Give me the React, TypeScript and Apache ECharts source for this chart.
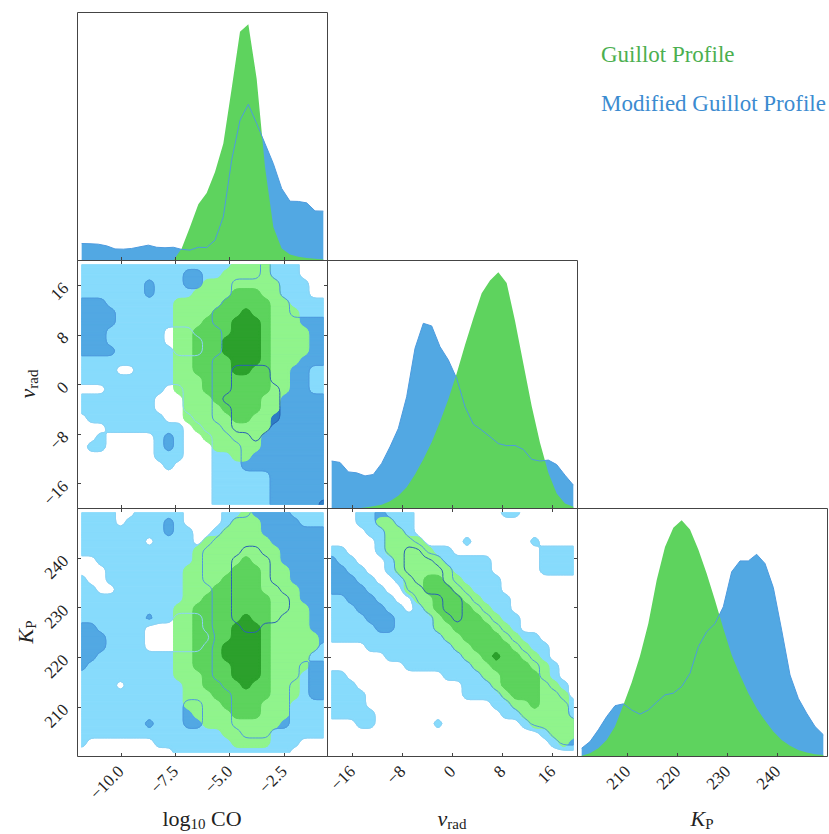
import React, { useEffect, useRef } from "react";
import * as echarts from "echarts";

// ---------------------------------------------------------------------------
// Parameters, axis ranges and tick marks
// ---------------------------------------------------------------------------
const LOGCO_RANGE = [-12, -0.5];
const VRAD_RANGE = [-20, 20];
const KP_RANGE = [200, 250];

const LOGCO_TICKS = [-10, -7.5, -5, -2.5];
const VRAD_TICKS = [-16, -8, 0, 8, 16];
const KP_TICKS = [210, 220, 230, 240];

const HIST_BINS = 30;

// ---------------------------------------------------------------------------
// 1D marginal posteriors (relative density per bin, 30 bins over the range)
// ---------------------------------------------------------------------------
const LOGCO_HIST_GUILLOT = [
  0, 0, 0, 0, 0, 0, 0, 0, 0, 0, 0, 0, 0.051, 0.142, 0.238, 0.286, 0.375, 0.495,
  0.728, 0.968, 1.0, 0.77, 0.396, 0.142, 0.051, 0.025, 0.016, 0.011, 0.007, 0.004,
];
const LOGCO_HIST_MODIFIED = [
  0.072, 0.071, 0.069, 0.062, 0.049, 0.048, 0.051, 0.058, 0.065, 0.056, 0.054,
  0.056, 0.047, 0.044, 0.056, 0.055, 0.086, 0.185, 0.425, 0.594, 0.661, 0.58,
  0.495, 0.41, 0.305, 0.251, 0.25, 0.244, 0.21, 0.209,
];
const VRAD_HIST_GUILLOT = [
  0, 0, 0, 0, 0.004, 0.01, 0.016, 0.031, 0.054, 0.09, 0.144, 0.209, 0.281, 0.367,
  0.463, 0.572, 0.692, 0.805, 0.911, 0.965, 1.0, 0.955, 0.795, 0.614, 0.434,
  0.278, 0.151, 0.064, 0.021, 0.007,
];
const VRAD_HIST_MODIFIED = [
  0.201, 0.195, 0.155, 0.151, 0.138, 0.144, 0.191, 0.261, 0.339, 0.473, 0.678,
  0.784, 0.773, 0.685, 0.629, 0.551, 0.431, 0.357, 0.332, 0.304, 0.275, 0.266,
  0.267, 0.25, 0.208, 0.201, 0.205, 0.186, 0.141, 0.099,
];
const KP_HIST_GUILLOT = [
  0.003, 0.014, 0.035, 0.07, 0.127, 0.218, 0.313, 0.425, 0.563, 0.746, 0.887,
  0.969, 1.0, 0.961, 0.876, 0.775, 0.662, 0.542, 0.43, 0.345, 0.268, 0.204,
  0.152, 0.106, 0.07, 0.045, 0.028, 0.017, 0.01, 0.006,
];
const KP_HIST_MODIFIED = [
  0.035, 0.063, 0.113, 0.169, 0.215, 0.223, 0.197, 0.179, 0.197, 0.23, 0.261,
  0.268, 0.296, 0.352, 0.465, 0.528, 0.563, 0.634, 0.782, 0.828, 0.828, 0.856,
  0.817, 0.715, 0.535, 0.345, 0.246, 0.183, 0.127, 0.092,
];

// ---------------------------------------------------------------------------
// 2D posteriors: credible-region level per node (0 = outside, 1..3 = inner
// regions). 26 x 26 nodes, rows from the top of the y range downwards,
// columns from the left of the x range.
// ---------------------------------------------------------------------------
const GUILLOT_LOGCO_VRAD = [
  "00000000000000001111000000",
  "00000000000000011111000000",
  "00000000000001111111100000",
  "00000000000011112221100000",
  "00000000001111122222110000",
  "00000000001111222322111000",
  "00000000001112223332111000",
  "00000000001122223332111100",
  "00000000001122233332111100",
  "00000000001122233332111100",
  "00000000001122223332111000",
  "00000000001122223322110000",
  "00000000001112222222110000",
  "00000000001112222222110000",
  "00000000000111222221100000",
  "00000000000111122221100000",
  "00000000000111112211000000",
  "00000000000011111111000000",
  "00000000000001111110000000",
  "00000000000000111110000000",
  "00000000000000001100000000",
  "00000000000000000000000000",
  "00000000000000000000000000",
  "00000000000000000000000000",
  "00000000000000000000000000",
  "00000000000000000000000000",
];
const MODIFIED_LOGCO_VRAD = [
  "11111111111111111112111000",
  "11111111111221111112111000",
  "11111112111221112222211100",
  "11111112111111112222211100",
  "22211111111111122222221111",
  "22221111111111222222221111",
  "22221111111111222222222222",
  "22211111100011122222222222",
  "22211111100001122222222222",
  "22221111110001122222222222",
  "11111111111111222222222222",
  "11110011111111223333222211",
  "11111111111111223333222211",
  "00011111100111223333322211",
  "11111111000111233333322222",
  "11111111000111223333322222",
  "01111111100011223333322222",
  "00011111111001123333222222",
  "00100000121000112232222222",
  "01100000121000111222222222",
  "00000000111000111222222222",
  "00000000010000111222222222",
  "00000000000000111111222222",
  "00000000000000111111222222",
  "00000000000000111111222222",
  "00000000000000111111222223",
];
const GUILLOT_LOGCO_KP = [
  "00000000000000000100000000",
  "00000000000000001110000000",
  "00000000000000011110000000",
  "00000000000001111111000000",
  "00000000000011111111100000",
  "00000000000011111211100000",
  "00000000000111112221110000",
  "00000000000111122221110000",
  "00000000000111222221111000",
  "00000000000112222222111000",
  "00000000001122222222111100",
  "00000000001122222322111100",
  "00000000001122223332111100",
  "00000000001122223332111110",
  "00000000001122233332111110",
  "00000000001122233332111100",
  "00000000001122223332111100",
  "00000000001112223332111000",
  "00000000000112222322111000",
  "00000000000111222222111000",
  "00000000000111122221110000",
  "00000000000011112221110000",
  "00000000000001111111100000",
  "00000000000000011111000000",
  "00000000000000001111000000",
  "00000000000000000000000000",
];
const MODIFIED_LOGCO_KP = [
  "11110011111000011122221111",
  "11110111121000012222222111",
  "11111111121100122222222222",
  "11111110111101222222222222",
  "11111111111112222332222222",
  "00111111111112223333222222",
  "00011111111112223333222222",
  "10011111111112223333222222",
  "11001111111111223333322222",
  "11111111111111223333332222",
  "11111111111111223333332222",
  "11111112110001223333322222",
  "22111110000001222332222222",
  "22211110000000222222222222",
  "22211110000001222222222221",
  "22111111111111222222222211",
  "21111111111111222222222122",
  "11111111111111222222222122",
  "11110111111111122222221122",
  "11111111111111112222221122",
  "11111111111221112222221111",
  "11111111111221112222221111",
  "11111112111221112222221111",
  "11111111111111111222111111",
  "10000000111111111111111000",
  "00000000001111111111110000",
];
const GUILLOT_VRAD_KP = [
  "00000000000000000000000000",
  "00000110000000000000000000",
  "00000011000000000000000000",
  "00000011110000000000000000",
  "00000011111000000000000000",
  "00000001111100000000000000",
  "00000001111110000000000000",
  "00000000112211000000000000",
  "00000000112221100000000000",
  "00000000011222110000000000",
  "00000000001222211000000000",
  "00000000000122221100000000",
  "00000000000112222110000000",
  "00000000000011222211000000",
  "00000000000001122221100000",
  "00000000000000112322110000",
  "00000000000000011222211000",
  "00000000000000001122221000",
  "00000000000000000122221100",
  "00000000000000000012221110",
  "00000000000000000001121110",
  "00000000000000000000111110",
  "00000000000000000000011111",
  "00000000000000000000000111",
  "00000000000000000000000010",
  "00000000000000000000000000",
];
const MODIFIED_VRAD_KP = [
  "00011211100000000011000000",
  "00011221100000000000000000",
  "00001122100000000000000000",
  "00000122210000100000010000",
  "11000122331110000000001111",
  "21100012333211111000001111",
  "22110012333321111000001111",
  "22211001233321111100000000",
  "22221100223332111100000000",
  "11222110022233211110000000",
  "11122211012233221110000000",
  "11112221111223222111000000",
  "11111221111222222211000000",
  "11111111111122222221110000",
  "00001111111112222222111000",
  "00000011111111222222211000",
  "00000000111111122222221100",
  "11000000000011112222221100",
  "11100000000000111222222110",
  "11110000000000111122222210",
  "11110000000000000112222221",
  "11111000000000000011222221",
  "00011000000100000000122222",
  "00000000000000000000001222",
  "00000000000000000000000122",
  "00000000000000000000000000",
];

// ---------------------------------------------------------------------------
// Styling
// ---------------------------------------------------------------------------
const FONT = "'Liberation Serif', 'DejaVu Serif', serif";
const FRAME = "#444444";
const INK = "#222222";

const GREEN_FILLS = ["#90f48c", "#5dd35d", "#2ca02c"];
const BLUE_FILLS = ["#87dbfc", "#52a8e3", "#2e7cc4"];
const BLUE_LINES = ["#8cd2f4", "#4e9ade", "#2a62b4"];
const HIST_GREEN = "#5ed35e";
const HIST_BLUE = "#52a8e3";
const HIST_BLUE_LINE = "#4d9bdf";
const LEGEND_GREEN = "#4caf50";
const LEGEND_BLUE = "#3b8bd0";

const COL_LEFT = [77.5, 327.5, 577.5];
const ROW_TOP = [12.5, 260.5, 508.5];
const PANEL_W = 250;
const PANEL_H = 248;

const VARS = [
  { range: LOGCO_RANGE, ticks: LOGCO_TICKS, digits: 1 },
  { range: VRAD_RANGE, ticks: VRAD_TICKS, digits: 0 },
  { range: KP_RANGE, ticks: KP_TICKS, digits: 0 },
];

const HISTS = [
  [LOGCO_HIST_GUILLOT, LOGCO_HIST_MODIFIED],
  [VRAD_HIST_GUILLOT, VRAD_HIST_MODIFIED],
  [KP_HIST_GUILLOT, KP_HIST_MODIFIED],
];

// [row, col, guillot levels, modified levels]
const PAIRS: [number, number, string[], string[]][] = [
  [1, 0, GUILLOT_LOGCO_VRAD, MODIFIED_LOGCO_VRAD],
  [2, 0, GUILLOT_LOGCO_KP, MODIFIED_LOGCO_KP],
  [2, 1, GUILLOT_VRAD_KP, MODIFIED_VRAD_KP],
];

const tickFormatter = (digits: number) => (v: number) => {
  const s = Math.abs(v).toFixed(digits);
  return v < 0 ? "\u2212" + s : s;
};

const binCenters = (range: number[], n: number) => {
  const w = (range[1] - range[0]) / n;
  return Array.from({ length: n }, (_, k) => range[0] + (k + 0.5) * w);
};

// grid nodes sit on the centres of the outermost bins
const nodeExtent = (range: number[]) => {
  const half = (range[1] - range[0]) / (2 * HIST_BINS);
  return [range[0] + half, range[1] - half];
};

// Bilinear refinement of the level grid followed by one binomial smoothing
// pass, so the iso-contours come out rounded rather than chamfered.
const REFINE = 3;
function refineField(levels: string[]) {
  const g = levels.map((r) => Array.from(r, (ch) => Number(ch)));
  const nj = g.length;
  const ni = g[0].length;
  const FJ = (nj - 1) * REFINE + 1;
  const FI = (ni - 1) * REFINE + 1;
  const f: number[][] = [];
  for (let y = 0; y < FJ; y++) {
    const j0 = Math.min(Math.floor(y / REFINE), nj - 2);
    const v = y / REFINE - j0;
    const row: number[] = [];
    for (let x = 0; x < FI; x++) {
      const i0 = Math.min(Math.floor(x / REFINE), ni - 2);
      const u = x / REFINE - i0;
      row.push(
        g[j0][i0] * (1 - u) * (1 - v) +
          g[j0][i0 + 1] * u * (1 - v) +
          g[j0 + 1][i0] * (1 - u) * v +
          g[j0 + 1][i0 + 1] * u * v
      );
    }
    f.push(row);
  }
  const clampY = (y: number) => Math.max(0, Math.min(FJ - 1, y));
  const clampX = (x: number) => Math.max(0, Math.min(FI - 1, x));
  return f.map((row, y) =>
    row.map((_, x) => {
      let acc = 0;
      for (let dy = -1; dy <= 1; dy++) {
        for (let dx = -1; dx <= 1; dx++) {
          const w = (dx ? 1 : 2) * (dy ? 1 : 2);
          acc += w * f[clampY(y + dy)][clampX(x + dx)];
        }
      }
      return acc / 16;
    })
  );
}

type FP = { fi: number; fj: number; cross: boolean };

// Marching squares over the refined field: filled bands and/or iso-lines.
function contourElements(
  field: number[][],
  xr: number[],
  yr: number[],
  api: any,
  fills: string[] | null,
  lines: string[] | null
) {
  const nj = field.length;
  const ni = field[0].length;
  const [x0, x1] = nodeExtent(xr);
  const [y0, y1] = nodeExtent(yr);
  const P = (fi: number, fj: number) =>
    api.coord([x0 + (fi * (x1 - x0)) / (ni - 1), y1 - (fj * (y1 - y0)) / (nj - 1)]);
  const out: any[] = [];

  for (let L = 1; L <= 3; L++) {
    const t = L - 0.5;
    const fillColor = fills ? fills[L - 1] : "";
    const fillStyle = { fill: fillColor, stroke: fillColor, lineWidth: 1, lineJoin: "round" };
    const segs: [FP, FP][] = [];
    for (let j = 0; j < nj - 1; j++) {
      let runStart = -1;
      const flush = (iEnd: number) => {
        if (runStart >= 0 && fills) {
          out.push({
            type: "polygon",
            silent: true,
            shape: { points: [P(runStart, j), P(iEnd, j), P(iEnd, j + 1), P(runStart, j + 1)] },
            style: fillStyle,
          });
        }
        runStart = -1;
      };
      for (let i = 0; i < ni - 1; i++) {
        const c = [
          [i, j, field[j][i]],
          [i + 1, j, field[j][i + 1]],
          [i + 1, j + 1, field[j + 1][i + 1]],
          [i, j + 1, field[j + 1][i]],
        ];
        const above = c.map((q) => q[2] >= t);
        if (above.every(Boolean)) {
          if (runStart < 0) runStart = i;
          continue;
        }
        flush(i);
        if (!above.some(Boolean)) continue;
        const pts: FP[] = [];
        for (let k = 0; k < 4; k++) {
          const a = c[k];
          const b = c[(k + 1) % 4];
          if (a[2] >= t) pts.push({ fi: a[0], fj: a[1], cross: false });
          if (a[2] >= t !== b[2] >= t) {
            const f = (t - a[2]) / (b[2] - a[2]);
            pts.push({ fi: a[0] + (b[0] - a[0]) * f, fj: a[1] + (b[1] - a[1]) * f, cross: true });
          }
        }
        if (fills) {
          out.push({
            type: "polygon",
            silent: true,
            shape: { points: pts.map((q) => P(q.fi, q.fj)) },
            style: fillStyle,
          });
        }
        if (lines) {
          for (let m = 0; m < pts.length; m++) {
            const q1 = pts[m];
            const q2 = pts[(m + 1) % pts.length];
            if (q1.cross && q2.cross) segs.push([q1, q2]);
          }
        }
      }
      flush(ni - 1);
    }

    if (lines && segs.length) {
      // join the cell segments into polylines
      const key = (p: FP) => `${p.fi.toFixed(4)},${p.fj.toFixed(4)}`;
      const adj = new Map<string, number[]>();
      segs.forEach((s, idx) => {
        for (const p of s) {
          const k = key(p);
          if (!adj.has(k)) adj.set(k, []);
          adj.get(k)!.push(idx);
        }
      });
      const used = new Array(segs.length).fill(false);
      const extend = (chain: FP[], atEnd: boolean) => {
        for (;;) {
          const tip = atEnd ? chain[chain.length - 1] : chain[0];
          const cand = (adj.get(key(tip)) || []).find((n) => !used[n]);
          if (cand === undefined) return;
          used[cand] = true;
          const [a, b] = segs[cand];
          const next = key(a) === key(tip) ? b : a;
          if (atEnd) chain.push(next);
          else chain.unshift(next);
        }
      };
      for (let s = 0; s < segs.length; s++) {
        if (used[s]) continue;
        used[s] = true;
        const chain: FP[] = [segs[s][0], segs[s][1]];
        extend(chain, true);
        extend(chain, false);
        out.push({
          type: "polyline",
          silent: true,
          shape: { points: chain.map((q) => P(q.fi, q.fj)) },
          style: { stroke: lines[L - 1], lineWidth: 1, fill: null, lineJoin: "round" },
        });
      }
    }
  }
  return out;
}

let measureCtx: CanvasRenderingContext2D | null = null;
function textWidth(text: string, size: number, italic: boolean) {
  if (!measureCtx) measureCtx = document.createElement("canvas").getContext("2d");
  measureCtx!.font = `${italic ? "italic " : ""}${size}px "Liberation Serif"`;
  return measureCtx!.measureText(text).width;
}

type Part = { text: string; italic?: boolean; sub?: boolean };
const BASE_SIZE = 22;
const SUB_SIZE = 15;

function mathLabel(parts: Part[], cx: number, cy: number, rotation = 0) {
  const widths = parts.map((p) => textWidth(p.text, p.sub ? SUB_SIZE : BASE_SIZE, !!p.italic));
  const total = widths.reduce((a, b) => a + b, 0);
  let x = -total / 2;
  const children = parts.map((p, k) => {
    const el = {
      type: "text",
      x,
      y: p.sub ? 6 : 0,
      silent: true,
      style: {
        text: p.text,
        fontSize: p.sub ? SUB_SIZE : BASE_SIZE,
        fontFamily: FONT,
        fontStyle: p.italic ? "italic" : "normal",
        fill: INK,
        align: "left",
        verticalAlign: "middle",
      },
    };
    x += widths[k];
    return el;
  });
  return { type: "group", x: cx, y: cy, rotation, children };
}

function buildOption() {
  const grid: any[] = [];
  const xAxis: any[] = [];
  const yAxis: any[] = [];
  const series: any[] = [];

  const addGrid = (r: number, c: number) => {
    grid.push({
      left: COL_LEFT[c],
      top: ROW_TOP[r],
      width: PANEL_W,
      height: PANEL_H,
      show: true,
      borderColor: FRAME,
      borderWidth: 1,
      backgroundColor: "transparent",
      z: 10,
    });
    return grid.length - 1;
  };

  const tickAxis = (gridIndex: number, v: any, position: string, labels: boolean) => ({
    type: "value",
    gridIndex,
    min: v.range[0],
    max: v.range[1],
    position,
    z: 12,
    axisLine: { show: false, onZero: false },
    splitLine: { show: false },
    axisTick: {
      show: true,
      inside: true,
      length: 3.5,
      customValues: v.ticks,
      lineStyle: { color: FRAME, width: 1 },
    },
    axisLabel: {
      show: labels,
      customValues: v.ticks,
      formatter: tickFormatter(v.digits),
      rotate: 45,
      margin: 12,
      fontFamily: FONT,
      fontSize: 17,
      color: INK,
    },
  });

  // diagonal: marginal histograms
  for (let k = 0; k < 3; k++) {
    const gi = addGrid(k, k);
    const v = VARS[k];
    xAxis.push(tickAxis(gi, v, "bottom", k === 2));
    const xi = xAxis.length - 1;
    const [green, blue] = HISTS[k];
    const yMax = 1.05 * Math.max(...green, ...blue);
    yAxis.push({ type: "value", gridIndex: gi, min: 0, max: yMax, show: false });
    const yi = yAxis.length - 1;
    const centers = binCenters(v.range, HIST_BINS);
    const pts = (vals: number[]) => centers.map((x, b) => [x, vals[b]]);
    series.push({
      type: "line",
      xAxisIndex: xi,
      yAxisIndex: yi,
      data: pts(blue),
      symbol: "none",
      lineStyle: { width: 0 },
      areaStyle: { color: HIST_BLUE, opacity: 1 },
      silent: true,
      z: 1,
    });
    series.push({
      type: "line",
      xAxisIndex: xi,
      yAxisIndex: yi,
      data: pts(green),
      symbol: "none",
      lineStyle: { width: 0 },
      areaStyle: { color: HIST_GREEN, opacity: 1 },
      silent: true,
      z: 2,
    });
    series.push({
      type: "line",
      xAxisIndex: xi,
      yAxisIndex: yi,
      data: pts(blue),
      symbol: "none",
      lineStyle: { width: 1, color: HIST_BLUE_LINE },
      silent: true,
      z: 3,
    });
  }

  // off-diagonal: joint posteriors
  for (const [r, c, greenLv, blueLv] of PAIRS) {
    const gi = addGrid(r, c);
    const vx = VARS[c];
    const vy = VARS[r];
    xAxis.push(tickAxis(gi, vx, "bottom", r === 2));
    const xi = xAxis.length - 1;
    xAxis.push(tickAxis(gi, vx, "top", false));
    yAxis.push(tickAxis(gi, vy, "left", c === 0));
    const yi = yAxis.length - 1;
    yAxis.push(tickAxis(gi, vy, "right", false));

    const greenField = refineField(greenLv);
    const blueField = refineField(blueLv);

    const custom = (field: number[][], fills: string[] | null, lines: string[] | null, z: number) => ({
      type: "custom",
      coordinateSystem: "cartesian2d",
      xAxisIndex: xi,
      yAxisIndex: yi,
      silent: true,
      clip: false,
      z,
      data: [[(vx.range[0] + vx.range[1]) / 2, (vy.range[0] + vy.range[1]) / 2]],
      encode: { x: 0, y: 1 },
      renderItem: (_params: any, api: any) => ({
        type: "group",
        children: contourElements(field, vx.range, vy.range, api, fills, lines),
      }),
    });
    series.push(custom(blueField, BLUE_FILLS, null, 1));
    series.push(custom(greenField, GREEN_FILLS, null, 2));
    series.push(custom(blueField, null, BLUE_LINES, 3));
  }

  const graphic: any[] = [
    {
      type: "text",
      x: 601,
      y: 54,
      silent: true,
      style: {
        text: "Guillot Profile",
        fontSize: 23,
        fontFamily: FONT,
        fill: LEGEND_GREEN,
        align: "left",
        verticalAlign: "middle",
      },
    },
    {
      type: "text",
      x: 601,
      y: 103,
      silent: true,
      style: {
        text: "Modified Guillot Profile",
        fontSize: 23,
        fontFamily: FONT,
        fill: LEGEND_BLUE,
        align: "left",
        verticalAlign: "middle",
      },
    },
    mathLabel([{ text: "log" }, { text: "10", sub: true }, { text: " CO" }], 202, 818),
    mathLabel([{ text: "v", italic: true }, { text: "rad", sub: true }], 452, 818),
    mathLabel([{ text: "K", italic: true }, { text: "P", sub: true }], 702, 818),
    mathLabel([{ text: "v", italic: true }, { text: "rad", sub: true }], 27, 384, Math.PI / 2),
    mathLabel([{ text: "K", italic: true }, { text: "P", sub: true }], 25, 632, Math.PI / 2),
  ];

  return {
    animation: false,
    backgroundColor: "#ffffff",
    grid,
    xAxis,
    yAxis,
    series,
    graphic,
  };
}

export default function App() {
  const ref = useRef<HTMLDivElement>(null);
  useEffect(() => {
    const chart = echarts.init(ref.current!, undefined, { renderer: "svg" });
    chart.setOption(buildOption() as any);
    return () => chart.dispose();
  }, []);
  return (
    <div
      ref={ref}
      style={{ position: "fixed", left: 0, top: 0, width: 829, height: 834, background: "#ffffff" }}
    />
  );
}
